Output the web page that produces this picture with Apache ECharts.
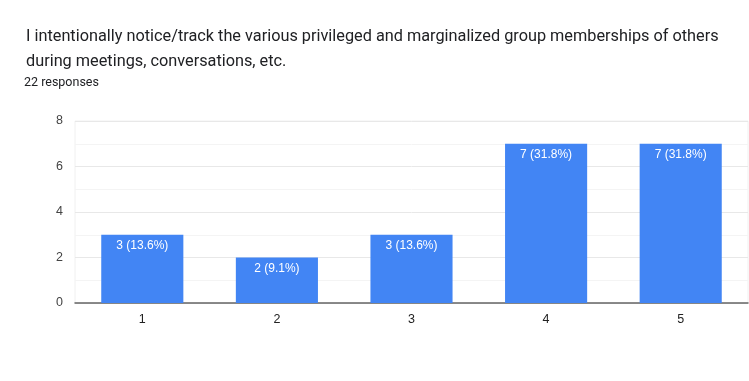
<!DOCTYPE html>
<html><head><meta charset="utf-8">
<script src="https://cdn.jsdelivr.net/npm/echarts@6/dist/echarts.min.js"></script>
<style>html,body{margin:0;padding:0;background:#fff}#c{width:749px;height:381px}</style>
</head><body><div id="c"></div>
<script>
const titleLines = ["I intentionally notice/track the various privileged and marginalized group memberships of others", "during meetings, conversations, etc."];
const subtitle = "22 responses";
const categories = ["1", "2", "3", "4", "5"];
const counts = [3, 2, 3, 7, 7];
const labels = ["3 (13.6%)", "2 (9.1%)", "3 (13.6%)", "7 (31.8%)", "7 (31.8%)"];
const yTicks = { min: 0, max: 8, interval: 2 };

const chart = echarts.init(document.getElementById('c'), null, { renderer: 'canvas' });
chart.setOption({
  animation: false,
  title: [
    { text: titleLines.join('\n'), left: 21, top: 19, textStyle: { fontFamily: 'Roboto', fontSize: 16.3, fontWeight: 'normal', color: '#202124', lineHeight: 25 } },
    { text: subtitle, left: 19, top: 71, textStyle: { fontFamily: 'Roboto', fontSize: 12.5, fontWeight: 'normal', color: '#202124' } }
  ],
  grid: { left: 75, right: 1, top: 121, bottom: 78, show: true, borderColor: '#f0f0f0', borderWidth: 1 },
  xAxis: {
    type: 'category', data: categories,
    axisLine: { lineStyle: { color: '#666', width: 1.5 } },
    axisTick: { show: false },
    axisLabel: { fontFamily: 'Arial, Liberation Sans', fontSize: 12.5, color: '#222', margin: 10 }
  },
  yAxis: {
    type: 'value', min: yTicks.min, max: yTicks.max, interval: yTicks.interval,
    axisLine: { show: false }, axisTick: { show: false },
    axisLabel: { fontFamily: 'Arial, Liberation Sans', fontSize: 12.5, color: '#444', margin: 12 },
    splitLine: { lineStyle: { color: '#e8e8e8' } },
    minorTick: { show: false, splitNumber: 2 },
    minorSplitLine: { show: true, lineStyle: { color: '#f4f4f4' } }
  },
  series: [{
    type: 'bar', data: counts, barCategoryGap: '39%',
    itemStyle: { color: '#4285f4' },
    label: {
      show: true, position: 'insideTop', distance: 5,
      formatter: p => labels[p.dataIndex],
      fontFamily: 'Arial, Liberation Sans', fontSize: 12, color: '#fff'
    }
  }]
});
</script></body></html>
